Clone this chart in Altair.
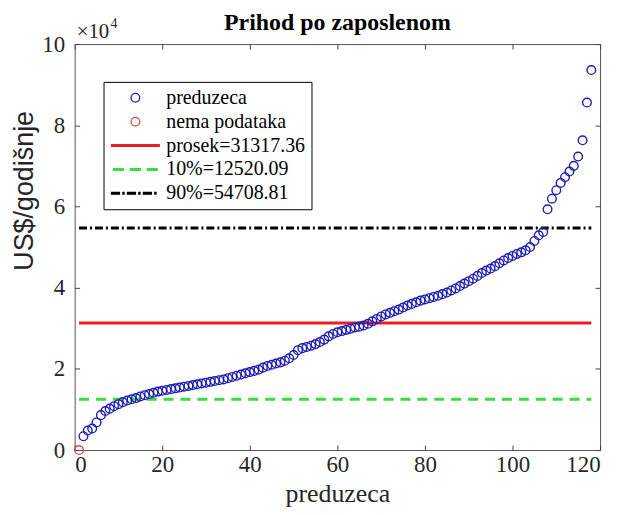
import altair as alt
import pandas as pd

# ---------------- data ----------------
company_index = list(range(2, 119))
revenue_per_employee = [
    3400, 4800, 5300, 6800, 8600, 9600, 10200, 10800, 11300, 11800,
    12200, 12500, 12800, 13200, 13500, 13800, 14100, 14400, 14600, 14800,
    15000, 15200, 15400, 15600, 15800, 16000, 16200, 16400, 16600, 16800,
    17000, 17200, 17400, 17700, 18000, 18300, 18600, 18900, 19200, 19500,
    19800, 20300, 20700, 21000, 21300, 21600, 22000, 22600, 23400, 24600,
    25100, 25400, 25700, 26100, 26600, 27200, 28000, 28600, 29000, 29300,
    29600, 29900, 30200, 30400, 30700, 31100, 31700, 32300, 32900, 33400,
    33800, 34200, 34600, 35100, 35600, 36000, 36400, 36800, 37100, 37400,
    37700, 38000, 38400, 38800, 39300, 39800, 40400, 41000, 41600, 42200,
    42900, 43600, 44200, 44700, 45300, 46000, 46700, 47300, 47800, 48300,
    48700, 49200, 50000, 51500, 52900, 53700, 59300, 61900, 64000, 65800,
    67200, 68600, 70000, 72300, 76300, 85600, 93600,
]
missing_index = [1]
missing_value = [0]

series_names = ["preduzeca", "nema podataka", "prosek=31317.36",
                "10%=12520.09", "90%=54708.81"]
series_colors = ["#1c1cb0", "#c8524a", "#ee1d23", "#3ddc3d", "#000000"]

line_names = ["prosek=31317.36", "10%=12520.09", "90%=54708.81"]
line_values = [31317.36, 12520.09, 54708.81]
line_start = [1, 1, 1]
line_end = [118, 118, 118]
line_dashes = [[1, 0], [10, 7], [8, 3, 2, 3]]

x_ticks = [0, 20, 40, 60, 80, 100, 120]
y_ticks = [0, 20000, 40000, 60000, 80000, 100000]

chart_title = ["Prihod po zaposlenom"]
exponent_base = ["×10"]
exponent_power = ["4"]

# ---------------- tables ----------------
pts = pd.DataFrame({"x": company_index, "y": revenue_per_employee,
                    "series": series_names[0]})
miss = pd.DataFrame({"x": missing_index, "y": missing_value,
                     "series": series_names[1]})
lines = pd.DataFrame({"x1": line_start, "x2": line_end, "y": line_values,
                      "series": line_names})

W, H = 528, 408
SERIF = "Liberation Serif"
SANS = "Liberation Sans"
TXT = "#262626"
TICK = "#444444"

xs = alt.Scale(domain=[0, 120], nice=False, zero=False)
ys = alt.Scale(domain=[0, 100000], nice=False, zero=False)

# symbol paths (unit = sqrt(size)/2 px = 7.5 px)
circ = "M0.58,0A0.58,0.58,0,1,1,-0.58,0A0.58,0.58,0,1,1,0.58,0Z"
solid = "M-3.2,-0.12H3.2V0.12H-3.2Z"
dashed = ("M-2.93,-0.12H-1.6V0.12H-2.93Z"
          "M-0.67,-0.12H0.67V0.12H-0.67Z"
          "M1.6,-0.12H2.93V0.12H1.6Z")
dashdot = ("M-3.2,-0.12H-2.13V0.12H-3.2Z"
           "M-1.67,-0.12H-1.52V0.12H-1.67Z"
           "M-1.06,-0.12H0.01V0.12H-1.06Z"
           "M0.47,-0.12H0.62V0.12H0.47Z"
           "M1.08,-0.12H2.15V0.12H1.08Z"
           "M2.61,-0.12H2.76V0.12H2.61Z")
series_shapes = [circ, circ, solid, dashed, dashdot]
series_fills = ["transparent", "transparent", series_colors[2],
                series_colors[3], series_colors[4]]

legend = alt.Legend(
    title=None, orient="none", legendX=29, legendY=38,
    labelFont=SERIF, labelFontSize=20, labelColor="black",
    symbolSize=225, symbolStrokeWidth=1.3, symbolOffset=16, labelOffset=21,
    rowPadding=4, strokeColor="black", fillColor="white", padding=6,
    cornerRadius=0, symbolOpacity=1,
)
shape_enc = alt.Shape("series:N",
                      scale=alt.Scale(domain=series_names, range=series_shapes),
                      legend=legend)
fill_enc = alt.Fill("series:N",
                    scale=alt.Scale(domain=series_names, range=series_fills),
                    legend=legend)
stroke_enc = alt.Stroke("series:N",
                        scale=alt.Scale(domain=series_names, range=series_colors),
                        legend=legend)

tick_common = dict(labels=False, domain=False, grid=False, ticks=True,
                   tickSize=5, tickColor=TICK, tickWidth=1, title=None)

ax_x_main = alt.Axis(values=x_ticks, orient="bottom", ticks=False, domain=False,
                     grid=False, labelFont=SERIF, labelFontSize=23,
                     labelPadding=4, labelColor=TXT, title="preduzeca",
                     titleFont=SERIF, titleFontSize=26, titleFontWeight="normal",
                     titleBaseline="alphabetic", titleAlign="center",
                     titleX=W / 2, titleY=52, titleColor=TXT)
ax_y_main = alt.Axis(values=y_ticks, orient="left", ticks=False, domain=False,
                     grid=False, labelExpr="datum.value / 10000",
                     labelFont=SERIF, labelFontSize=23, labelPadding=10,
                     labelColor=TXT, title="US$/godišnje", titleFont=SANS,
                     titleFontSize=27, titleFontWeight="normal",
                     titleAngle=270, titleAlign="center", titleBaseline="middle",
                     titleX=-50, titleY=147, titleColor=TXT)

points = alt.Chart(pts).mark_point(size=225, strokeWidth=1.4, opacity=1).encode(
    x=alt.X("x:Q", scale=xs, axis=ax_x_main),
    y=alt.Y("y:Q", scale=ys, axis=ax_y_main),
    shape=shape_enc, fill=fill_enc, stroke=stroke_enc,
)

missing = alt.Chart(miss).mark_point(size=225, strokeWidth=1.4, opacity=1).encode(
    x=alt.X("x:Q", scale=xs,
            axis=alt.Axis(values=x_ticks, orient="bottom", offset=-H, **tick_common)),
    y=alt.Y("y:Q", scale=ys,
            axis=alt.Axis(values=y_ticks, orient="left", offset=-W, **tick_common)),
    shape=shape_enc, fill=fill_enc, stroke=stroke_enc,
)

rules = alt.Chart(lines).mark_rule(strokeWidth=3, opacity=1).encode(
    x=alt.X("x1:Q", scale=xs,
            axis=alt.Axis(values=x_ticks, orient="top", offset=-H, **tick_common)),
    x2="x2:Q",
    y=alt.Y("y:Q", scale=ys,
            axis=alt.Axis(values=y_ticks, orient="right", offset=-W, **tick_common)),
    stroke=stroke_enc,
    strokeDash=alt.StrokeDash("series:N",
                              scale=alt.Scale(domain=line_names, range=line_dashes),
                              legend=None),
)

title_txt = alt.Chart(pd.DataFrame({"t": chart_title})).mark_text(
    font=SERIF, fontSize=24, fontWeight="bold", align="center",
    baseline="middle", color="black"
).encode(text="t:N", x=alt.value(W / 2), y=alt.value(-21))
exp_base = alt.Chart(pd.DataFrame({"t": exponent_base})).mark_text(
    font=SERIF, fontSize=21, align="left", baseline="alphabetic", color=TXT
).encode(text="t:N", x=alt.value(2), y=alt.value(-6))
exp_pow = alt.Chart(pd.DataFrame({"t": exponent_power})).mark_text(
    font=SERIF, fontSize=14, align="left", baseline="alphabetic", color=TXT
).encode(text="t:N", x=alt.value(36), y=alt.value(-16))

chart = alt.layer(rules, points, missing, title_txt, exp_base, exp_pow).resolve_axis(
    x="independent", y="independent"
).properties(
    width=W, height=H,
    autosize=alt.AutoSizeParams(type="none"),
    padding={"left": 67, "top": 35, "right": 14, "bottom": 56},
).configure_view(stroke="#555555", strokeWidth=1)

chart.save("out.html", embed_options={"renderer": "svg", "actions": False})
